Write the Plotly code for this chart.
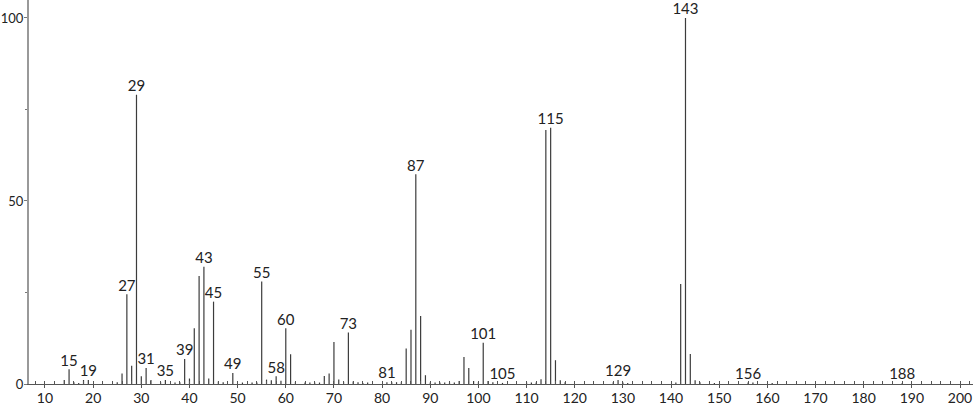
import plotly.graph_objects as go

# m/z values and relative intensities
mz = [14, 15, 16, 17, 18, 19, 25, 26, 27, 28, 29, 30, 31, 32, 34, 35, 37, 38,
      39, 40, 41, 42, 43, 44, 45, 46, 47, 49, 51, 53, 54, 55, 56, 57, 58, 59,
      60, 61, 62, 64, 65, 66, 67, 68, 69, 70, 71, 72, 73, 74, 75, 76, 77, 81,
      82, 83, 84, 85, 86, 87, 88, 89, 90, 91, 92, 93, 94, 95, 96, 97, 98, 99,
      100, 101, 102, 103, 105, 110, 111, 112, 113, 114, 115, 116, 117, 118,
      128, 129, 130, 131, 141, 142, 143, 144, 145, 146, 149, 156, 157, 161, 188]
intensity = [1.1, 4.0, 0.5, 0.3, 1.1, 1.1, 0.5, 2.9, 24.5, 5.0, 79, 2.1, 4.4, 1.1,
             0.5, 1.1, 0.4, 0.5, 6.8, 1.5, 15.2, 29.5, 32, 1.5, 22.5, 0.7, 0.5,
             3.0, 0.4, 0.4, 0.4, 28, 1.2, 1.0, 2.1, 0.9, 15.2, 8.1, 0.5, 0.4, 0.4,
             0.4, 0.4, 2.2, 2.9, 11.5, 1.2, 0.6, 14.1, 0.7, 0.5, 0.3, 0.4, 0.5,
             0.5, 0.5, 0.5, 9.7, 14.8, 57.3, 18.6, 2.4, 0.4, 0.4, 0.4, 0.4, 0.4,
             0.4, 0.8, 7.4, 4.4, 0.8, 0.5, 11.3, 0.8, 0.5, 0.3, 0.4, 0.4, 0.4,
             1.3, 69.4, 70, 6.5, 1.0, 0.5, 0.5, 1.1, 0.4, 0.3, 0.4, 27.3, 100,
             8.2, 1.0, 0.5, 0.3, 0.4, 0.4, 0.3, 0.3]

# peaks that carry a label
label_mz = [15, 19, 27, 29, 31, 35, 39, 43, 45, 49, 55, 58, 60, 73, 81, 87,
            101, 105, 115, 129, 143, 156, 188]

lookup = dict(zip(mz, intensity))
label_int = [lookup[m] for m in label_mz]

# stick spectrum: one vertical segment per peak
xs, ys = [], []
for m, v in zip(mz, intensity):
    xs += [m, m, None]
    ys += [0, v, None]

FONT = dict(family='Lato', size=15, color='#222222')
TICKFONT = dict(family='Lato', size=14, color='#222222')

fig = go.Figure()
fig.add_trace(go.Scatter(
    x=xs, y=ys, mode='lines',
    line=dict(color='#3c3c3c', width=1.2),
    hoverinfo='skip', showlegend=False
))
fig.add_trace(go.Scatter(
    x=label_mz, y=label_int, mode='text',
    text=[str(m) for m in label_mz],
    textposition='top center',
    textfont=FONT,
    hoverinfo='skip', cliponaxis=False, showlegend=False
))

fig.update_layout(
    width=974, height=406,
    margin=dict(l=29, r=1, t=0, b=22),
    plot_bgcolor='white', paper_bgcolor='white',
    font=FONT,
    xaxis=dict(
        range=[6.68, 202.7], showgrid=False, zeroline=False, automargin=False,
        showline=True, linecolor='#555555', linewidth=1,
        tick0=0, dtick=10, ticks='outside', ticklen=3, tickcolor='#555555',
        ticklabelstandoff=-2, tickfont=TICKFONT,
        minor=dict(dtick=2, tick0=0, ticks='inside', ticklen=3, tickcolor='#555555'),
    ),
    yaxis=dict(
        range=[0, 104.9], showgrid=False, zeroline=False, automargin=False,
        showline=True, linecolor='#999999', linewidth=2,
        tickvals=[0, 50, 100], ticks='outside', ticklen=3, tickcolor='#777777',
        ticklabelstandoff=-2, tickfont=dict(TICKFONT, size=13),
        minor=dict(tickvals=[25, 75], ticks='outside', ticklen=2, tickcolor='#777777'),
    ),
)

# drop the default page margin so the figure sits at the window corner
fig.write_html("out.html", config={'displayModeBar': False},
               post_script="document.body.style.margin='0';")
